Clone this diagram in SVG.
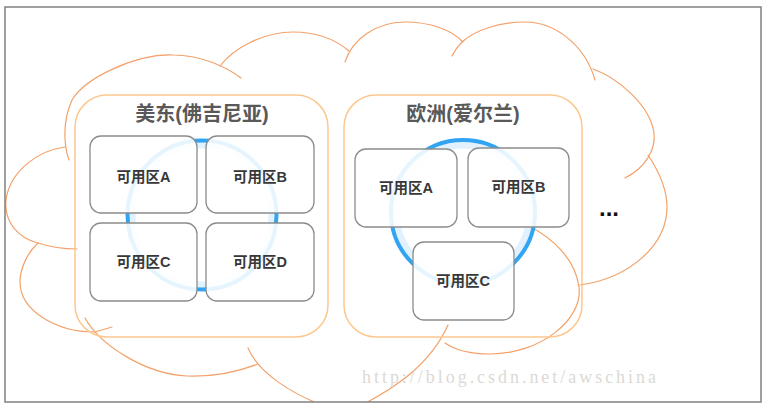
<svg xmlns="http://www.w3.org/2000/svg" width="764" height="404" viewBox="0 0 764 404">
  <style>
    .cloud { fill: none; stroke: #f3a16a; stroke-width: 1.2; stroke-linecap: round; }
    .region { fill: none; stroke: #fcc88f; stroke-width: 1.5; }
    .region-title { font-family: "Liberation Sans", "Noto Sans CJK SC", sans-serif; font-size: 20px; font-weight: bold; fill: #595959; text-anchor: middle; }
    .az rect { fill: #ffffff; fill-opacity: 0.88; stroke: #8c8c8c; stroke-width: 1.3; }
    .az text { font-family: "Liberation Sans", "Noto Sans CJK SC", sans-serif; font-size: 14.5px; font-weight: bold; fill: #383838; text-anchor: middle; }
    .ring-glow { fill: none; stroke: #e2f1fe; stroke-width: 7; }
    .ring { fill: none; stroke: #31a4f2; stroke-width: 4; }
    .more { font-family: "Liberation Sans", sans-serif; font-size: 24px; font-weight: bold; fill: #111111; }
    .mark { font-family: "Liberation Serif", serif; font-size: 18px; fill: #dcd9d4; }
  </style>
  <defs>
    <clipPath id="frame-clip">
      <rect x="5" y="7" width="756" height="395"/>
    </clipPath>
  </defs>

  <rect x="0" y="0" width="764" height="404" fill="#ffffff"/>

  <!-- cloud outline made of overlapping lobes -->
  <g id="cloud" class="cloud" clip-path="url(#frame-clip)">
    <path d="M69,160 C64,146 62,122 72,100 C85,78 135,54 173,55 C200,55 225,66 241,78"/>
    <path d="M220,66 C234,48 263,32 293,32 C315,32 335,39 349,51"/>
    <path d="M345,62 C352,40 375,22 405,22 C430,22 452,30 463,42"/>
    <path d="M452,56 Q456,48 462,42 C475,30 500,22 525,22 C555,22 585,45 595,80"/>
    <path d="M593,69 C618,78 650,105 654,133 C656,150 645,168 625,178"/>
    <path d="M648,155 C658,170 667,188 667,207 C667,245 630,278 580,285"/>
    <path d="M529,226 C552,238 575,258 579,287 C583,320 540,354 490,354 C470,354 455,350 445,343"/>
    <path d="M360,406 C395,388 430,365 448,325"/>
    <path d="M248,348 C258,372 290,395 340,412"/>
    <path d="M85,318 C100,345 145,374 187,376 C215,377 240,371 258,364"/>
    <path d="M38,243 C28,252 20,268 20,282 C20,310 55,332 95,332 L112,327"/>
    <path d="M65,147 C40,150 10,170 6,200 C4,222 18,238 38,243 C50,247 65,249 77,249"/>
  </g>

  <!-- regions -->
  <g id="region-us-east">
    <rect class="region" x="75" y="95" width="253" height="242" rx="32"/>
    <text class="region-title" x="202" y="121">美东(佛吉尼亚)</text>
  </g>
  <g id="region-eu">
    <rect class="region" x="344" y="95" width="238" height="242" rx="32"/>
    <text class="region-title" x="463" y="121">欧洲(爱尔兰)</text>
  </g>

  <!-- replication rings linking the zones of each region -->
  <g id="connectors">
    <circle class="ring-glow" cx="202" cy="215" r="70"/>
    <circle class="ring" cx="202" cy="215" r="74.5"/>
    <circle class="ring-glow" cx="463" cy="212" r="67"/>
    <circle class="ring" cx="463" cy="212" r="72"/>
  </g>

  <!-- availability zones, US East -->
  <g id="us-az-a" class="az">
    <rect x="90" y="136" width="107" height="77" rx="11"/>
    <text x="143.5" y="182">可用区A</text>
  </g>
  <g id="us-az-b" class="az">
    <rect x="206" y="136" width="108" height="77" rx="11"/>
    <text x="260" y="182">可用区B</text>
  </g>
  <g id="us-az-c" class="az">
    <rect x="90" y="223" width="107" height="78" rx="11"/>
    <text x="143.5" y="267">可用区C</text>
  </g>
  <g id="us-az-d" class="az">
    <rect x="206" y="223" width="108" height="78" rx="11"/>
    <text x="260" y="267">可用区D</text>
  </g>

  <!-- availability zones, Europe -->
  <g id="eu-az-a" class="az">
    <rect x="355" y="149" width="102" height="78" rx="11"/>
    <text x="406" y="193">可用区A</text>
  </g>
  <g id="eu-az-b" class="az">
    <rect x="468" y="148" width="101" height="79" rx="11"/>
    <text x="518.5" y="192">可用区B</text>
  </g>
  <g id="eu-az-c" class="az">
    <rect x="413" y="242" width="101" height="78" rx="11"/>
    <text x="463" y="286">可用区C</text>
  </g>

  <text id="more-regions" class="more" x="599" y="216">...</text>

  <text class="mark" x="362" y="383" textLength="294" lengthAdjust="spacing">http://blog.csdn.net/awschina</text>

  <!-- outer frame -->
  <rect x="5" y="7" width="756" height="395" fill="none" stroke="#808080" stroke-width="1.5"/>
</svg>
